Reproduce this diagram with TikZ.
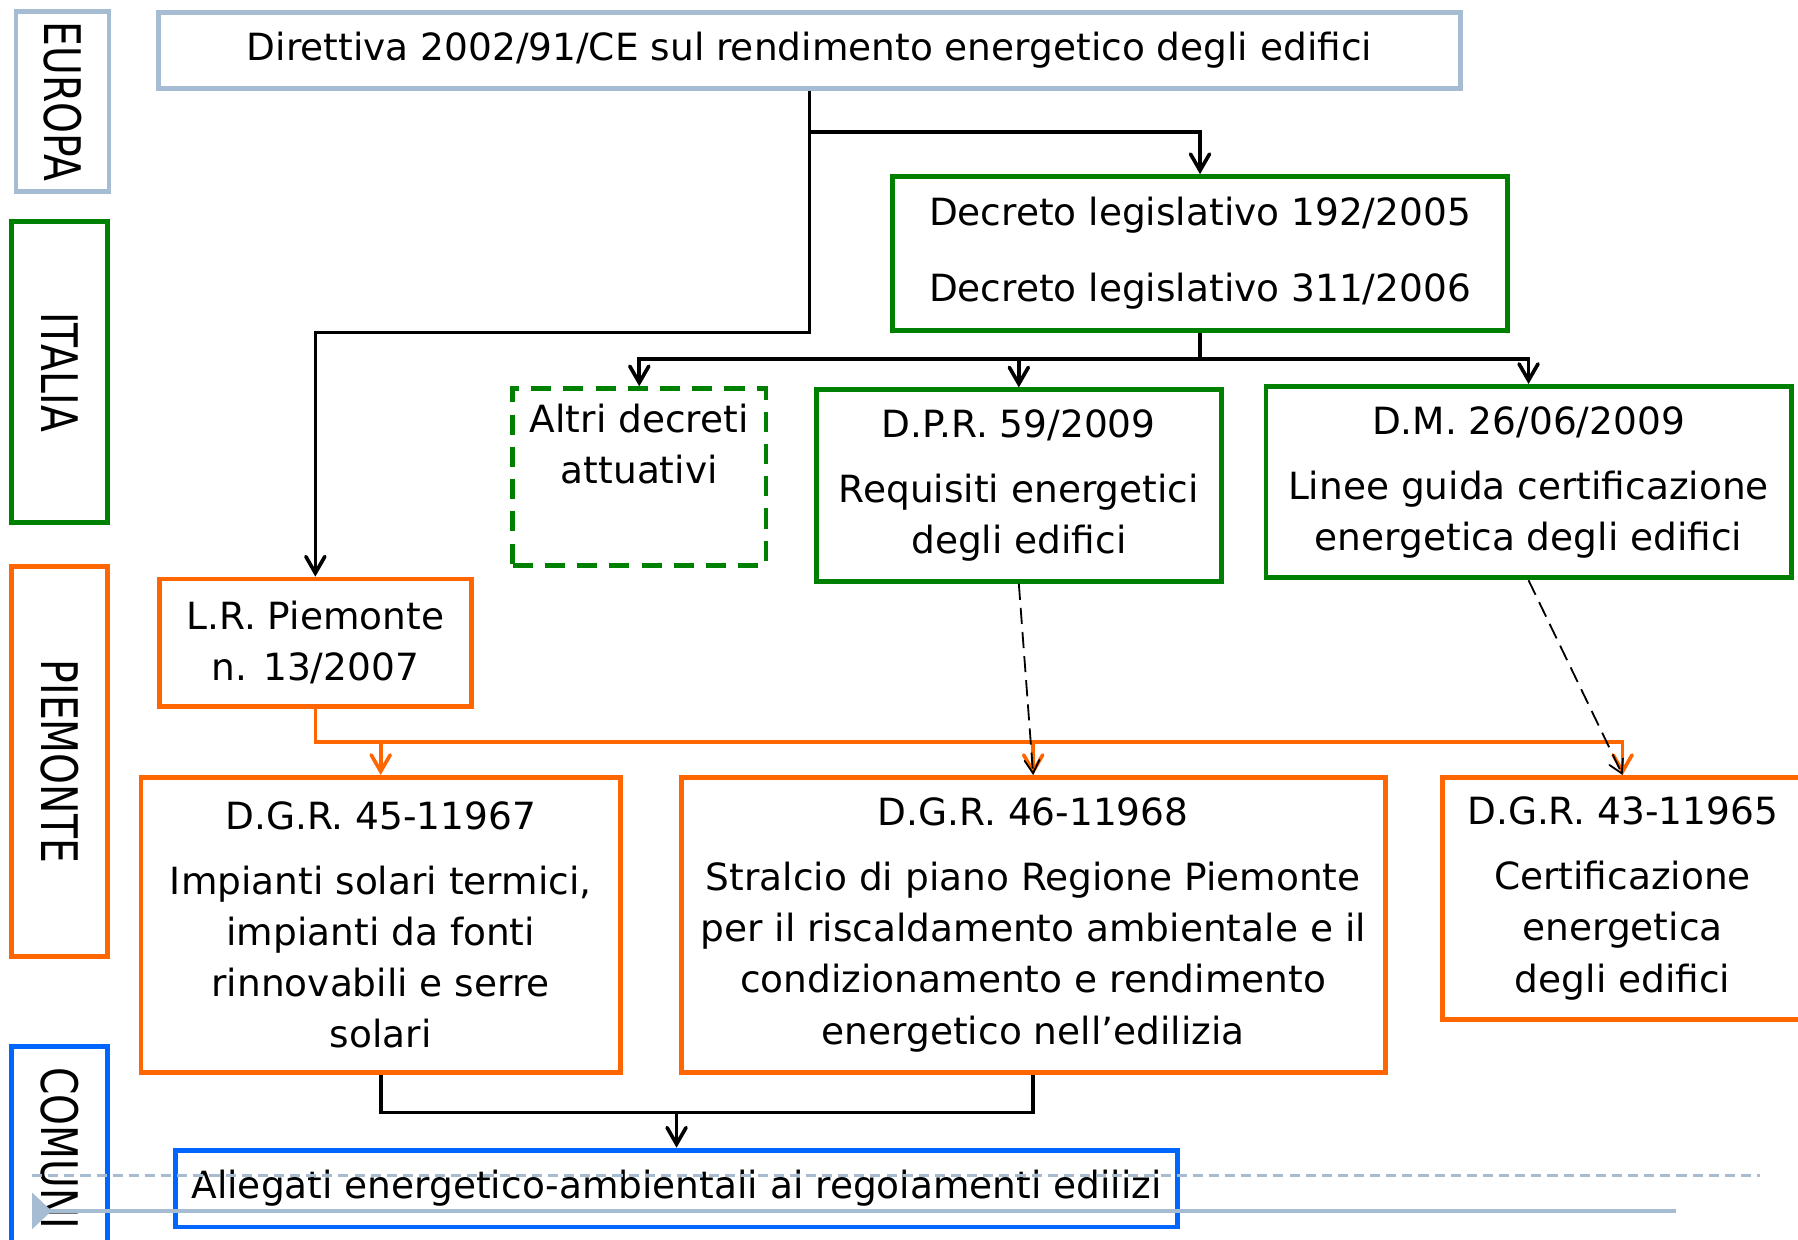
\documentclass[tikz,border=0pt]{standalone}
\usepackage{fontspec}
\setmainfont{DejaVu Sans}
\newfontfamily\sidefont[FakeStretch=0.78]{DejaVu Sans}
\usepackage{tikz}
\usetikzlibrary{shapes.geometric, arrows}
\definecolor{eublue}{RGB}{165,188,211}
\definecolor{itgreen}{RGB}{0,128,0}
\definecolor{pieorange}{RGB}{255,102,0}
\definecolor{comblue}{RGB}{0,102,255}
\tikzstyle{lawbox} = [rectangle, 
draw, 
line width=1.2pt, 
inner sep=0pt, 
text centered, 
align=center, 
font=\fontsize{9.3}{12.7}\selectfont]
\tikzstyle{eubox} = [lawbox, draw=eublue]
\tikzstyle{itbox} = [lawbox, draw=itgreen]
\tikzstyle{itdash} = [lawbox, draw=itgreen, dash pattern=on 5pt off 3pt]
\tikzstyle{piebox} = [lawbox, draw=pieorange]
\tikzstyle{combox} = [lawbox, draw=comblue]
\tikzstyle{side} = [rectangle, 
line width=1.2pt, 
inner sep=0pt, 
rotate=-90, 
font=\sidefont\fontsize{12.5}{14}\selectfont]
\tikzstyle{arrow} = [line width=0.9pt,->,>=angle 60]
\tikzstyle{oarrow} = [arrow, draw=pieorange]
\tikzstyle{darrow} = [line width=0.45pt,->,>=angle 60, dash pattern=on 4pt off 2pt]

\begin{document}
\begin{tikzpicture}[node distance=2cm]
\useasboundingbox (0,0) rectangle (15.68,10.81);

\node (eu) [side, draw=eublue, minimum width=1.57cm, minimum height=0.81cm] at (0.545,9.925) {EUROPA};
\node (it) [side, draw=itgreen, minimum width=2.63cm, minimum height=0.84cm] at (0.52,7.565) {ITALIA};
\node (pie) [side, draw=pieorange, minimum width=3.40cm, minimum height=0.84cm] at (0.52,4.17) {PIEMONTE};
\node (com) [side, draw=comblue, minimum width=1.77cm, minimum height=0.84cm] at (0.52,0.795) {COMUNI};

\node (dir) [eubox, minimum width=11.36cm, minimum height=0.66cm] at (7.06,10.37) {Direttiva 2002/91/CE sul rendimento energetico degli edifici};

\node (dlgs) [itbox, minimum width=5.37cm, minimum height=1.34cm, below of=dir, xshift=3.405cm, yshift=0.23cm] {Decreto legislativo 192/2005\\[0.22cm]Decreto legislativo 311/2006};

\node (dpr) [itbox, minimum width=3.53cm, minimum height=1.67cm, below of=dlgs, xshift=-1.58cm, yshift=-0.025cm] {D.P.R. 59/2009\\[0.12cm]Requisiti energetici\\degli edifici};

\node (altri) [itdash, minimum width=2.21cm, minimum height=1.54cm, left of=dpr, xshift=-1.31cm, yshift=0.075cm] {Altri decreti\\attuativi\\\strut};

\node (dm) [itbox, minimum width=4.58cm, minimum height=1.67cm, right of=dpr, xshift=2.445cm, yshift=0.03cm] {D.M. 26/06/2009\\[0.12cm]Linee guida certificazione\\energetica degli edifici};

\node (lr) [piebox, minimum width=2.72cm, minimum height=1.11cm, below of=altri, xshift=-2.825cm, yshift=0.555cm] {L.R. Piemonte\\n. 13/2007};

\node (dgr45) [piebox, minimum width=4.18cm, minimum height=2.57cm, below of=lr, xshift=0.57cm, yshift=-0.46cm] {D.G.R. 45-11967\\[0.12cm]Impianti solari termici,\\impianti da fonti\\rinnovabili e serre\\solari};

\node (dgr46) [piebox, minimum width=6.14cm, minimum height=2.57cm, right of=dgr45, xshift=3.69cm] {D.G.R. 46-11968\\[0.12cm]Stralcio di piano Regione Piemonte\\per il riscaldamento ambientale e il\\condizionamento e rendimento\\energetico nell’edilizia};

\node (dgr43) [piebox, minimum width=3.14cm, minimum height=2.11cm, right of=dgr46, xshift=3.14cm, yshift=0.23cm] {D.G.R. 43-11965\\[0.12cm]Certificazione\\energetica\\degli edifici};

\node (all) [combox, minimum width=8.74cm, minimum height=0.67cm, below of=dgr45, xshift=2.58cm, yshift=-0.30cm] {Allegati energetico-ambientali ai regolamenti edilizi};

\draw [arrow] (dir.south) -- (dir.south |- dlgs.south) -| (lr.north);
\draw [arrow] (dir.south) ++(0,-0.36) -| (dlgs.north);

\draw [line width=0.9pt] (dlgs.south) -- ++(0,-0.23) coordinate (bus);
\draw [arrow] (bus) -| (altri.north);
\draw [arrow] (bus) -| (dpr.north);
\draw [arrow] (bus) -| (dm.north);

\draw [oarrow] (lr.south) -- ++(0,-0.29) coordinate (obus) -| (dgr45.north);
\draw [oarrow] (obus) -| (dgr46.north);
\draw [oarrow] (obus) -| (dgr43.north);

\draw [darrow] (dpr.south) -- (dgr46.north);
\draw [darrow] (dm.south) -- (dgr43.north);

\draw [line width=0.9pt] (dgr45.south) -- ++(0,-0.33) coordinate (jn) -| (dgr46.south);
\draw [arrow] (jn -| all.north) -- (all.north);

\draw [eublue, line width=0.6pt, dash pattern=on 2.5pt off 1.5pt] (0.28,0.56) -- (15.35,0.56);
\draw [eublue, line width=0.9pt] (0.28,0.25) -- (14.62,0.25);
\fill [eublue] (0.28,0.41) -- (0.45,0.25) -- (0.28,0.09) -- cycle;

\end{tikzpicture}
\end{document}
